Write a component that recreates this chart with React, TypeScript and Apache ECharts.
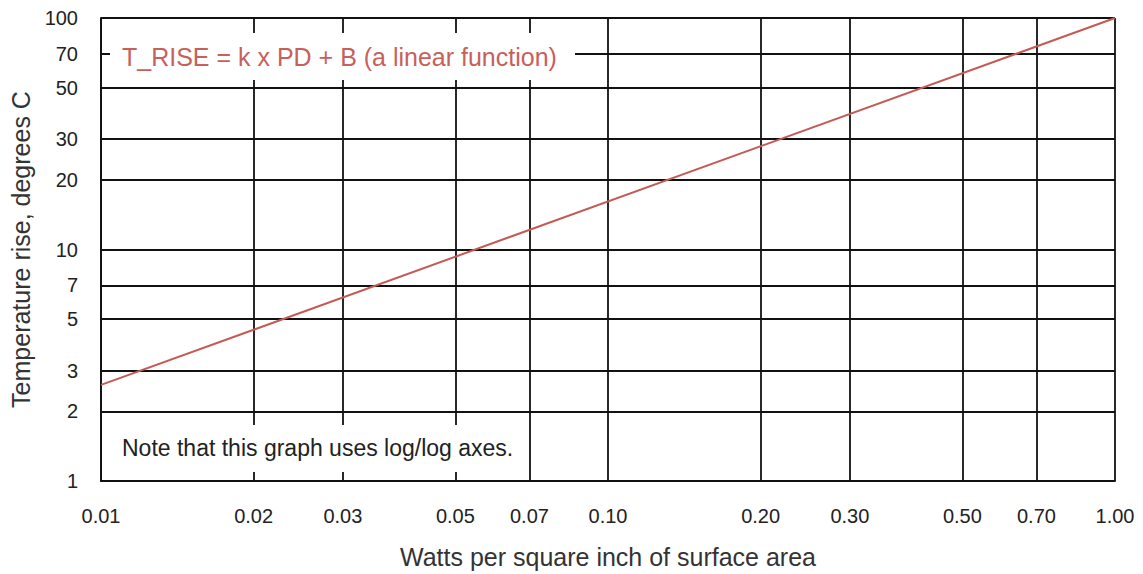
import React, { useEffect, useRef } from "react";
import * as echarts from "echarts";

const wattsPerSqIn = [0.01, 1.0];
const tempRise = [2.6, 100];
const xTicks = [0.01, 0.02, 0.03, 0.05, 0.07, 0.1, 0.2, 0.3, 0.5, 0.7, 1.0];
const yTicks = [1, 2, 3, 5, 7, 10, 20, 30, 50, 70, 100];
const formulaText = "T_RISE = k x PD + B (a linear function)";
const noteText = "Note that this graph uses log/log axes.";
const xTitle = "Watts per square inch of surface area";
const yTitle = "Temperature rise, degrees C";

const FONT = "'Liberation Sans', Arial, sans-serif";

export default function App() {
  const ref = useRef<HTMLDivElement>(null);
  useEffect(() => {
    if (!ref.current) return;
    const chart = echarts.init(ref.current, undefined, { renderer: "svg" });
    const gridLine = { show: true, lineStyle: { color: "#111", width: 1.8 } };
    chart.setOption({
      animation: false,
      backgroundColor: "#fff",
      textStyle: { fontFamily: FONT },
      grid: { left: 101, top: 18, right: 28, bottom: 92 },
      xAxis: {
        type: "log",
        logBase: 10,
        min: 0.01,
        max: 1,
        name: xTitle,
        nameLocation: "middle",
        nameGap: 63,
        nameTextStyle: { fontSize: 25, color: "#333", fontFamily: FONT },
        axisLine: { show: true, lineStyle: { color: "#111", width: 1.8 } },
        axisTick: { show: false, customValues: xTicks },
        axisLabel: {
          customValues: xTicks,
          margin: 25,
          fontSize: 20,
          color: "#222",
          fontFamily: FONT,
          formatter: (v: number) => v.toFixed(2),
        },
        splitLine: gridLine,
      },
      yAxis: {
        type: "log",
        logBase: 10,
        min: 1,
        max: 100,
        name: yTitle,
        nameLocation: "middle",
        nameGap: 64,
        nameTextStyle: { fontSize: 25, color: "#333", fontFamily: FONT },
        axisLine: { show: true, lineStyle: { color: "#111", width: 1.8 } },
        axisTick: { show: false, customValues: yTicks },
        axisLabel: {
          customValues: yTicks,
          margin: 23,
          fontSize: 20,
          color: "#222",
          fontFamily: FONT,
          formatter: (v: number) => String(Math.round(v)),
        },
        splitLine: gridLine,
      },
      series: [
        {
          type: "line",
          data: wattsPerSqIn.map((x, i) => [x, tempRise[i]]),
          showSymbol: false,
          lineStyle: { color: "#c45a55", width: 2 },
          z: 3,
        },
      ],
      graphic: [
        { type: "rect", shape: { x: 110, y: 33, width: 465, height: 47 }, style: { fill: "#fff" }, z: 10 },
        {
          type: "text",
          x: 122,
          y: 57,
          style: { text: formulaText, fill: "#c8605a", font: `25px ${FONT}`, verticalAlign: "middle" },
          z: 11,
        },
        { type: "rect", shape: { x: 110, y: 425, width: 415, height: 47 }, style: { fill: "#fff" }, z: 10 },
        {
          type: "text",
          x: 122,
          y: 448,
          style: { text: noteText, fill: "#222", font: `23px ${FONT}`, verticalAlign: "middle" },
          z: 11,
        },
      ],
    });
    return () => chart.dispose();
  }, []);
  return (
    <div
      ref={ref}
      style={{ position: "absolute", left: 0, top: 0, width: 1143, height: 574 }}
    />
  );
}
